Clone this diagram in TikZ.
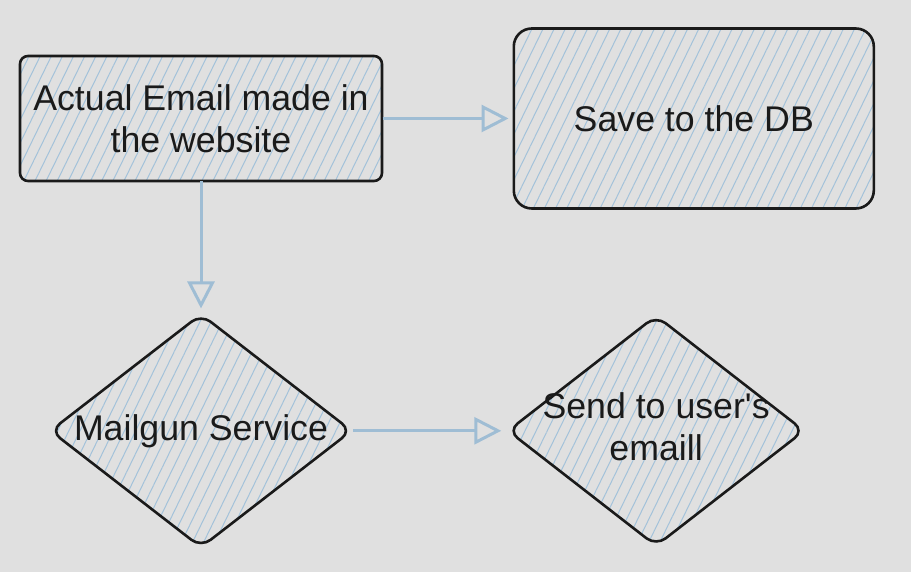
\documentclass[tikz,border=0pt]{standalone}
\usepackage{fontspec}
\setmainfont{Liberation Sans}
\usetikzlibrary{positioning,shapes.geometric,arrows.meta,patterns.meta}
\definecolor{bgray}{HTML}{E0E0E0}
\definecolor{hatch}{HTML}{A3C2DA}
\definecolor{ink}{HTML}{1A1A1A}
\definecolor{flow}{HTML}{9FBDD4}
\tikzset{
  sketch/.style={draw=ink, line width=2.6pt, pattern={Lines[angle=64,distance=10pt,line width=1pt]}, pattern color=hatch},
  box/.style={sketch, rectangle, rounded corners=8pt, minimum width=362pt, minimum height=125pt},
  dbbox/.style={sketch, rectangle, rounded corners=18pt, minimum width=360pt, minimum height=180pt},
  dia/.style={sketch, diamond, rounded corners=12pt, inner sep=0pt, minimum width=302pt, minimum height=234pt},
  lbl/.style={text=ink, font=\fontsize{35.7}{42}\selectfont, align=center},
  flowline/.style={->, draw=flow, line width=3pt, >={Triangle[open, length=27pt, width=27pt]}},
}
\begin{document}
\begin{tikzpicture}[
node distance = 130pt,
]
\fill[bgray] (0,0) rectangle (911pt,572pt);
\useasboundingbox (0,0) rectangle (911pt,572pt);
\node[box, lbl] (email) at (201pt,453.5pt) {Actual Email made in\\the website};
\node[dbbox, lbl, right = 130pt of email] (db) {Save to the DB};
\node[dia, below = 131pt of email] (mailgun) {};
\node[lbl] (mailguntext) at (mailgun) {Mailgun Service};
\node[dia, minimum width=297pt, minimum height=231pt, right = 153pt of mailgun] (send) {};
\node[lbl] (sendtext) at ([yshift=4pt]send.center) {Send to user\textquotesingle s\\emaill};
\path[flowline, shorten > = 4pt] (email) -- (db) ;
\path[flowline, shorten > = 4pt] (email) -- (mailgun) ;
\path[flowline, shorten > = 5pt] (mailgun) -- (send) ;

\end{tikzpicture}
\end{document}
